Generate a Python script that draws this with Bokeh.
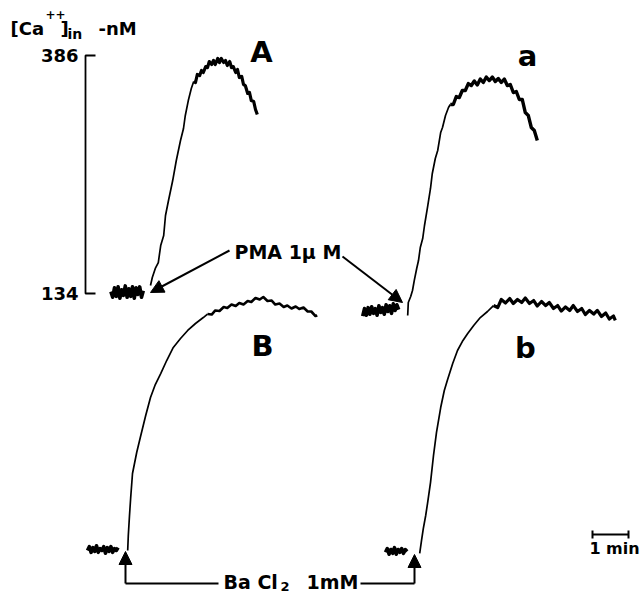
from bokeh.plotting import figure
from bokeh.models import Range1d, Arrow, NormalHead
from bokeh.core.properties import value
from bokeh.embed import file_html
from bokeh.resources import INLINE

# ---------------- data: time (s, relative to stimulus), [Ca++] (nM) ----------------
CAL_LOW, CAL_HIGH = 134, 386          # calibration bracket values (nM)
SCALE_BAR_S = 60                      # 1 min time bar

A_base_t = [-66, -63, -60, -57, -54, -51, -48, -45, -42, -39, -36, -33, -30, -27, -24, -21, -18, -15, -12]
A_base_c = [136, 130, 140, 131, 141, 129, 138, 132, 142, 130, 139, 131, 141, 129, 140, 133, 141, 130, 137]
A_rise_t = [0, 3, 8, 13, 17, 22, 25, 30, 37, 43, 50, 55, 58, 63, 68]
A_rise_c = [142.5, 150.9, 160.5, 166.8, 184.8, 195.4, 216.6, 232.5, 253.6, 274.8, 296.0, 308.7, 322.5, 338.3, 351.1]
A_peak_t = [72, 75, 78, 82, 85, 88, 92, 95, 98, 102, 105, 108, 112, 115, 118, 122, 125, 128, 132, 135, 138,
            142, 145, 148, 152, 155, 158, 162, 165, 168, 172, 175, 178]
A_peak_c = [358.5, 357.4, 365.9, 364.8, 370.1, 368.0, 374.3, 373.3, 379.6, 376.5, 380.7, 376.5, 382.8, 378.6,
            382.8, 378.6, 380.7, 375.4, 379.6, 373.3, 374.3, 368.0, 371.2, 362.7, 363.8, 355.3, 354.2, 345.8,
            346.8, 338.3, 337.3, 328.8, 323.5]

a_base_t = [-73, -70, -67, -64, -61, -58, -55, -52, -49, -46, -43, -40, -37, -34, -31, -28, -25, -22, -19, -16, -13]
a_base_c = [110, 118, 111, 119, 112, 120, 113, 118, 111, 121, 114, 119, 112, 122, 115, 121, 113, 123, 116, 122, 117]
a_rise_t = [2, 3, 7, 10, 13, 17, 20, 23, 27, 30, 35, 40, 43, 48, 52, 57, 60, 65, 70]
a_rise_c = [110.7, 124.5, 130.8, 137.2, 147.8, 160.5, 168.9, 182.7, 192.2, 206.0, 225.1, 245.2, 261.1, 276.9,
            285.4, 304.5, 309.8, 322.5, 330.9]
a_peak_t = [73, 78, 83, 88, 93, 98, 103, 108, 113, 118, 123, 128, 133, 138, 143, 148, 153, 158, 163, 168, 173,
            178, 183, 188, 193, 198, 203, 208, 213, 218]
a_peak_c = [334.1, 334.1, 342.6, 341.5, 348.9, 348.9, 356.3, 354.2, 359.0, 354.8, 361.1, 357.4, 363.2, 359.5,
            363.2, 358.5, 361.6, 357.4, 361.1, 354.2, 355.3, 346.8, 347.9, 339.4, 339.4, 325.6, 322.5, 309.8,
            306.6, 296.0]

B_base_t = [-65, -62, -59, -56, -53, -50, -47, -44, -41, -38, -35, -32, -29, -26, -23, -20, -17, -14]
B_base_c = [133, 137, 131, 136, 132, 138, 131, 135, 133, 137, 130, 136, 132, 137, 131, 135, 133, 136]
B_rise_t = [2, 3, 5, 7, 10, 17, 23, 32, 40, 48, 57, 67, 78, 90, 102, 115, 128]
B_rise_c = [132.9, 148.8, 170.0, 189.1, 214.5, 236.7, 252.6, 275.9, 294.9, 308.7, 320.3, 334.1, 347.9, 357.4,
            365.9, 373.3, 379.6]
B_peak_t = [135, 142, 148, 155, 162, 168, 175, 182, 188, 195, 202, 208, 215, 222, 228, 235, 242, 248, 255, 262,
            268, 275, 282, 288, 295, 302, 308, 315, 318]
B_peak_c = [383.3, 382.8, 387.1, 386.5, 390.8, 389.7, 393.4, 391.8, 395.0, 393.4, 397.1, 396.1, 400.3, 398.7,
            401.3, 397.1, 397.6, 393.4, 394.5, 390.8, 392.3, 389.2, 391.3, 388.6, 390.2, 386.0, 386.0, 381.2, 381.8]

b_base_t = [-50, -47, -44, -41, -38, -35, -32, -29, -26, -23, -20, -17, -14]
b_base_c = [131, 135, 129, 134, 130, 136, 129, 134, 131, 135, 130, 134, 132]
b_rise_t = [7, 10, 13, 17, 20, 25, 30, 35, 42, 48, 53, 62, 70, 78, 87, 97, 108, 120]
b_rise_c = [129.8, 143.5, 156.2, 170.0, 182.7, 204.9, 233.5, 257.9, 284.3, 302.3, 312.9, 330.9, 344.7, 354.2,
            362.7, 371.2, 379.6, 386.0]
b_peak_t = [130, 137, 143, 150, 157, 163, 170, 177, 183, 190, 197, 203, 210, 217, 223, 230, 237, 243, 250, 257,
            263, 270, 277, 283, 290, 297, 303, 310, 317, 323, 330, 333]
b_peak_c = [392.3, 390.2, 398.7, 395.0, 399.8, 394.5, 398.7, 395.5, 400.3, 394.5, 397.6, 391.8, 396.6, 392.3,
            395.5, 389.2, 392.3, 386.5, 390.8, 387.1, 392.3, 386.0, 389.2, 382.8, 387.1, 383.3, 387.1, 380.7,
            384.4, 378.0, 381.2, 376.5]

# ---------------- layout helpers (page position -> data units) ----------------
W, H = 641, 599
S_PER_PX = 60 / 36.0
NM_PER_PX = (CAL_HIGH - CAL_LOW) / 238.0
def X(px):
    return px * S_PER_PX
def Y(py):
    return CAL_LOW + (293 - py) * NM_PER_PX

T0 = {"A": X(150), "a": X(406), "B": X(126), "b": X(415)}
OFF = {"A": 0.0, "a": 0.0, "B": -(549 - 293) * NM_PER_PX, "b": -(549 - 293) * NM_PER_PX}
PEAK_W = {"A": 3.2, "a": 3.4, "B": 2.6, "b": 3.2}

p = figure(width=W, height=H, x_range=Range1d(X(0), X(W)), y_range=Range1d(Y(H), Y(0)),
           output_backend="svg", toolbar_location=None, min_border=0)
p.axis.visible = False
p.grid.visible = False
p.outline_line_color = None
p.background_fill_color = "white"
p.border_fill_color = "white"

traces = {
    "A": (A_base_t, A_base_c, A_rise_t, A_rise_c, A_peak_t, A_peak_c),
    "a": (a_base_t, a_base_c, a_rise_t, a_rise_c, a_peak_t, a_peak_c),
    "B": (B_base_t, B_base_c, B_rise_t, B_rise_c, B_peak_t, B_peak_c),
    "b": (b_base_t, b_base_c, b_rise_t, b_rise_c, b_peak_t, b_peak_c),
}
for k, (bt, bc, rt, rc, pt, pc) in traces.items():
    t0, off = T0[k], OFF[k]
    p.line([t0 + t for t in bt], [c + off for c in bc], line_color="black", line_width=3.6, line_join="round")
    p.line([t0 + t for t in rt + pt[:1]], [c + off for c in rc + pc[:1]], line_color="black",
           line_width=1.7, line_join="round")
    p.line([t0 + t for t in pt], [c + off for c in pc], line_color="black", line_width=PEAK_W[k],
           line_join="round")

# calibration bracket
p.line([X(95), X(85), X(85), X(95)], [CAL_HIGH, CAL_HIGH, CAL_LOW, CAL_LOW], line_color="black", line_width=1.8)

F = value("DejaVu Sans")
def txt(xs, ys, texts, size, align="left", baseline="middle"):
    p.text(x=xs, y=ys, text=texts, text_font=F, text_font_style="bold", text_font_size=size,
           text_align=align, text_baseline=baseline, text_color="black")

txt([X(78), X(78)], [CAL_HIGH, CAL_LOW], [str(CAL_HIGH), str(CAL_LOW)], "18px", align="right")

# y label  [Ca++]in -nM
txt([X(10)], [Y(28)], ["[Ca"], "18px", baseline="alphabetic")
txt([X(45)], [Y(14)], ["++"], "12px", baseline="alphabetic")
txt([X(60)], [Y(28)], ["]"], "18px", baseline="alphabetic")
txt([X(67)], [Y(33)], ["in"], "14px", baseline="alphabetic")
txt([X(98)], [Y(28)], ["-nM"], "18px", baseline="alphabetic")

# panel letters
txt([X(261), X(527), X(262), X(525)], [Y(51), Y(55), Y(345), Y(347)], ["A", "a", "B", "b"], "29px", align="center")

# PMA label and arrows
txt([X(234)], [Y(251)], ["PMA 1\u03bc M"], "19px")
head = dict(size=13, fill_color="black", line_color="black")
p.add_layout(Arrow(x_start=X(229), y_start=Y(250), x_end=X(150), y_end=Y(292),
                   line_width=2, line_color="black", end=NormalHead(**head)))
p.add_layout(Arrow(x_start=X(342), y_start=Y(256), x_end=X(402), y_end=Y(302),
                   line_width=2, line_color="black", end=NormalHead(**head)))

# BaCl2 label and arrows
txt([X(223)], [Y(581)], ["Ba Cl"], "19px")
txt([X(280)], [Y(586)], ["2"], "13px")
txt([X(306)], [Y(581)], ["1mM"], "19px")
p.line([X(218), X(125)], [Y(583), Y(583)], line_color="black", line_width=2)
p.line([X(360), X(414)], [Y(583), Y(583)], line_color="black", line_width=2)
p.add_layout(Arrow(x_start=X(125), y_start=Y(583), x_end=X(125), y_end=Y(551),
                   line_width=2, line_color="black", end=NormalHead(**head)))
p.add_layout(Arrow(x_start=X(414), y_start=Y(583), x_end=X(414), y_end=Y(554),
                   line_width=2, line_color="black", end=NormalHead(**head)))

# time scale bar
sb0 = X(592)
p.line([sb0, sb0 + SCALE_BAR_S], [Y(534), Y(534)], line_color="black", line_width=2)
p.segment(x0=[sb0, sb0 + SCALE_BAR_S], y0=[Y(530), Y(530)], x1=[sb0, sb0 + SCALE_BAR_S], y1=[Y(538), Y(538)],
          line_color="black", line_width=2)
txt([X(614)], [Y(548)], ["1 min"], "16px", align="center")

open("out.html", "w").write(file_html(p, INLINE))
